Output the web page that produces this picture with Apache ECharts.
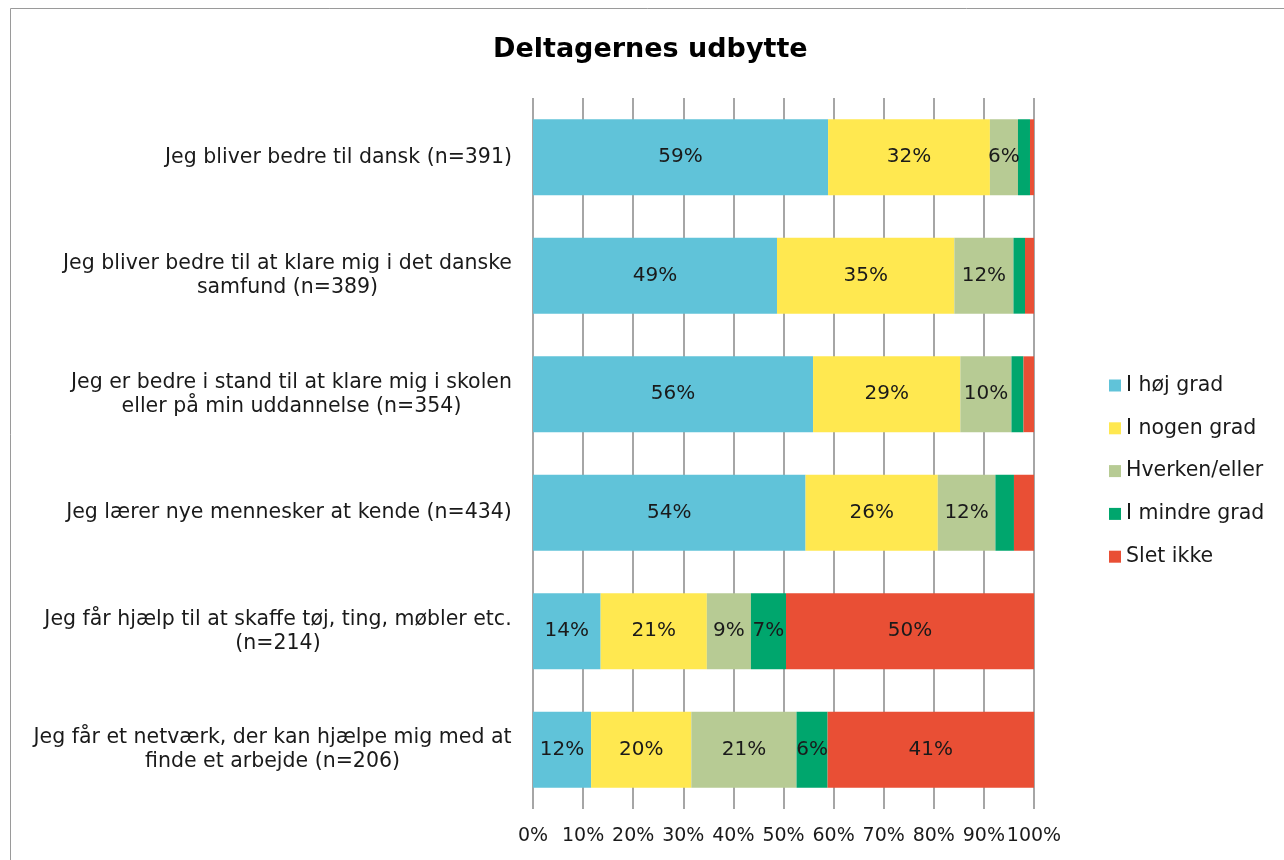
<!DOCTYPE html>
<html><head><meta charset="utf-8">
<script src="https://cdn.jsdelivr.net/npm/echarts@6/dist/echarts.min.js"></script>
<style>html,body{margin:0;padding:0;background:#fff}#c{width:1284px;height:860px}</style>
</head><body><div id="c"></div>
<script>
const categories = [
  'Jeg bliver bedre til dansk (n=391)',
  'Jeg bliver bedre til at klare mig i det danske\nsamfund (n=389)',
  'Jeg er bedre i stand til at klare mig i skolen\neller på min uddannelse (n=354)',
  'Jeg lærer nye mennesker at kende (n=434)',
  'Jeg får hjælp til at skaffe tøj, ting, møbler etc.\n(n=214)',
  'Jeg får et netværk, der kan hjælpe mig med at\nfinde et arbejde (n=206)'
];
const seriesNames = ['I høj grad', 'I nogen grad', 'Hverken/eller', 'I mindre grad', 'Slet ikke'];
const hojGrad   = [58.9, 48.7, 55.9, 54.4, 13.5, 11.6];
const nogenGrad = [32.3, 35.4, 29.4, 26.4, 21.2, 20.0];
const hverken   = [5.6, 11.8, 10.2, 11.5, 8.8, 21.0];
const mindreGrad= [2.4, 2.3, 2.4, 3.7, 7.0, 6.2];
const sletIkke  = [0.8, 1.8, 2.1, 4.0, 49.5, 41.2];
const colors = ['#60C3D9', '#FFE850', '#B7CB94', '#00A66D', '#E94F35'];

const FONT = 'DejaVu Sans';
const FS = 20.5;
const TXT = '#1a1a1a';

const cv = document.createElement('canvas').getContext('2d');
cv.font = FS + 'px "' + FONT + '"';
const rich = {};
categories.forEach((c, i) => {
  const w = Math.max(...c.split('\n').map(l => cv.measureText(l).width));
  rich['r' + i] = { width: Math.ceil(w), align: 'center', fontSize: FS, fontFamily: FONT, color: TXT, lineHeight: 24 };
});

const allData = [hojGrad, nogenGrad, hverken, mindreGrad, sletIkke];
const series = seriesNames.map((n, k) => ({
  name: n,
  type: 'bar',
  stack: 'total',
  barCategoryGap: '36%',
  data: allData[k],
  itemStyle: { color: colors[k] },
  label: {
    show: true,
    position: 'inside',
    fontFamily: FONT,
    fontSize: 20,
    color: TXT,
    formatter: p => p.value >= 5 ? Math.round(p.value) + '%' : ''
  }
}));

const chart = echarts.init(document.getElementById('c'), null, { renderer: 'canvas' });
chart.setOption({
  animation: false,
  backgroundColor: '#fff',
  title: {
    text: 'Deltagernes udbytte',
    left: 488,
    top: 31,
    textStyle: { fontFamily: FONT, fontSize: 27, fontWeight: 'bold', color: '#000' }
  },
  graphic: [{
    type: 'rect',
    shape: { x: 10.5, y: 8.5, width: 1300, height: 900 },
    style: { fill: 'none', stroke: '#9a9a9a', lineWidth: 1 },
    silent: true, z: -10
  }],
  legend: {
    orient: 'vertical',
    left: 1104,
    top: 370,
    icon: 'rect',
    itemWidth: 12,
    itemHeight: 12,
    itemGap: 21.8,
    textStyle: { fontFamily: FONT, fontSize: FS, color: TXT },
    data: seriesNames
  },
  grid: { left: 533, right: 250, top: 98, bottom: 51, containLabel: false },
  xAxis: {
    type: 'value',
    min: 0, max: 100, interval: 10,
    axisLine: { show: false },
    axisTick: { show: false },
    splitLine: { show: true, lineStyle: { color: '#a6a6a6', width: 2 } },
    axisLabel: {
      formatter: '{value}%', fontFamily: FONT, fontSize: 19, color: TXT, margin: 18,
      showMinLabel: true, showMaxLabel: true, hideOverlap: false
    }
  },
  yAxis: {
    type: 'category',
    inverse: true,
    data: categories,
    axisLine: { show: false },
    axisTick: { show: false },
    axisLabel: {
      margin: 21,
      formatter: (v, i) => v.split('\n').map(l => '{r' + i + '|' + l + '}').join('\n'),
      rich: rich
    }
  },
  series: series
});
</script>
</body></html>
